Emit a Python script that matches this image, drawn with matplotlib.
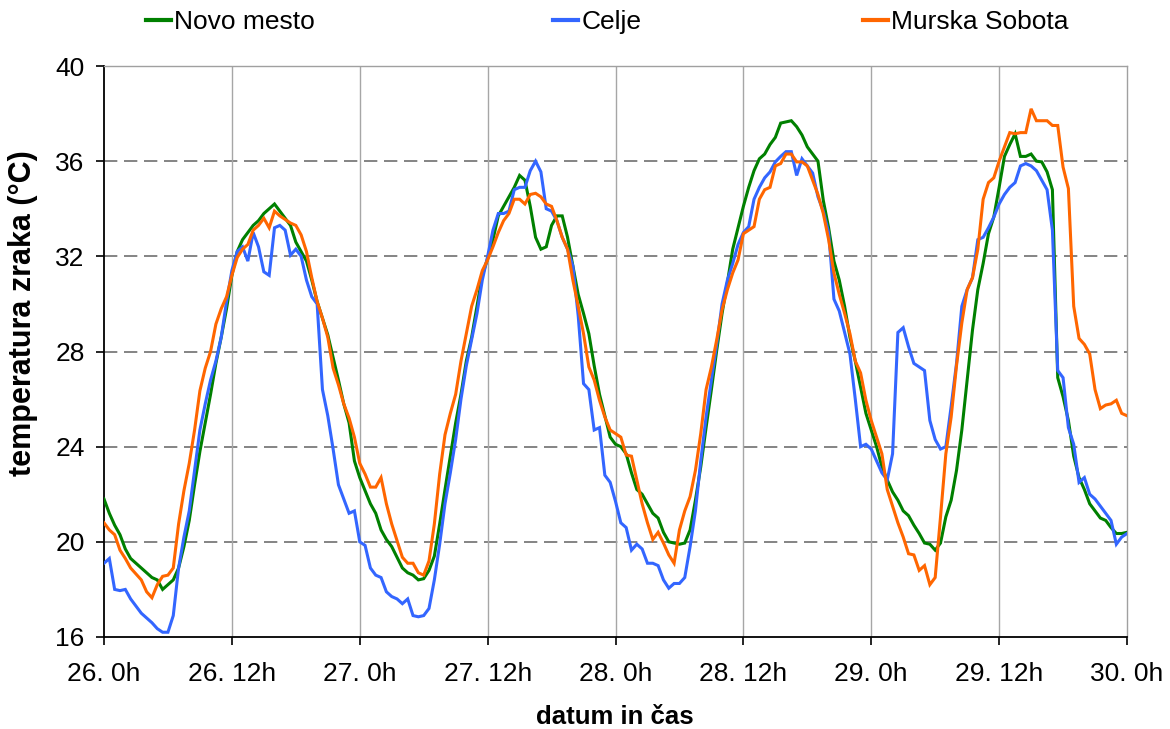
import numpy as np
import matplotlib
matplotlib.use("Agg")
import matplotlib.pyplot as plt
from matplotlib.lines import Line2D

plt.rcParams['font.family'] = ['Liberation Sans', 'DejaVu Sans']

# half-hourly air temperature (°C), from 26. 0h to 30. 0h
hours = np.arange(0, 96.5, 0.5)

novo_mesto = [
    21.8, 21.2, 20.7, 20.3, 19.7, 19.3, 19.1, 18.9, 18.7,
    18.5, 18.4, 18.0, 18.2, 18.4, 18.9, 19.8, 20.9,
    22.4, 23.8, 25.0, 26.2, 27.5, 28.6, 29.8, 31.2,
    32.2, 32.7, 33.0, 33.3, 33.5, 33.8, 34.0, 34.2,
    33.9, 33.6, 33.3, 32.6, 32.2, 31.8, 31.0, 30.1,
    29.4, 28.7, 27.75, 26.8, 25.8, 25.0, 23.4, 22.7,
    22.15, 21.6, 21.2, 20.5, 20.1, 19.8, 19.35, 18.9,
    18.7, 18.6, 18.4, 18.45, 18.8, 19.4, 20.75, 22.2,
    23.6, 25.0, 26.2, 27.6, 28.6, 29.9, 31.2, 31.9,
    32.7, 33.7, 34.1, 34.5, 34.9, 35.4, 35.2, 34.1,
    32.8, 32.3, 32.4, 33.3, 33.7, 33.7, 32.8, 31.6,
    30.4, 29.6, 28.75, 27.4, 26.2, 25.3, 24.4, 24.1,
    24.0, 23.7, 22.9, 22.2, 22.0, 21.6, 21.2, 21.0,
    20.4, 20.0, 19.95, 19.9, 19.95, 20.5, 21.75, 23.15,
    24.8, 26.4, 28.05, 29.6, 30.9, 32.3, 33.2, 34.1,
    34.9, 35.6, 36.1, 36.3, 36.7, 37.0, 37.6, 37.65,
    37.7, 37.45, 37.1, 36.6, 36.3, 36.0, 34.35, 33.2,
    31.8, 31.0, 29.9, 28.6, 27.6, 26.5, 25.4, 24.7,
    24.0, 23.15, 22.6, 22.1, 21.75, 21.3, 21.1, 20.7,
    20.35, 19.95, 19.9, 19.65, 19.95, 21.05, 21.75, 23.0,
    24.7, 26.8, 28.9, 30.6, 31.7, 32.95, 33.65, 34.9,
    36.2, 36.7, 37.15, 36.2, 36.2, 36.3, 36.0, 35.97,
    35.55, 34.8, 26.9, 26.1, 25.1, 23.6, 22.7, 22.2,
    21.6, 21.3, 21.0, 20.9, 20.6, 20.35, 20.35, 20.4,
]

celje = [
    19.1, 19.3, 18.0, 17.95, 18.0, 17.6, 17.3, 17.0, 16.8,
    16.6, 16.35, 16.2, 16.2, 16.9, 18.9, 20.2, 21.3,
    23.0, 24.7, 25.8, 26.8, 27.6, 28.6, 30.1, 31.4,
    32.2, 32.4, 31.8, 33.0, 32.4, 31.35, 31.2, 33.2,
    33.3, 33.1, 32.05, 32.3, 32.0, 31.0, 30.3, 30.0,
    26.4, 25.3, 23.9, 22.4, 21.8, 21.2, 21.3, 20.0,
    19.85, 18.9, 18.6, 18.5, 17.9, 17.7, 17.6, 17.4,
    17.6, 16.9, 16.85, 16.9, 17.2, 18.4, 19.9, 21.6,
    22.9, 24.3, 26.0, 27.4, 28.5, 29.6, 31.0, 32.0,
    33.1, 33.8, 33.8, 33.9, 34.8, 34.9, 34.9, 35.6,
    36.0, 35.55, 34.0, 33.9, 33.5, 32.8, 32.3, 31.6,
    29.5, 26.65, 26.4, 24.7, 24.8, 22.8, 22.5, 21.7,
    20.8, 20.6, 19.65, 19.9, 19.7, 19.1, 19.1, 19.0,
    18.4, 18.05, 18.25, 18.25, 18.5, 19.8, 21.3, 23.4,
    25.25, 26.8, 28.3, 30.0, 31.0, 31.7, 32.5, 33.0,
    33.25, 34.4, 34.9, 35.3, 35.55, 35.97, 36.2, 36.4,
    36.4, 35.4, 36.1, 35.8, 35.5, 34.5, 33.9, 33.0,
    30.2, 29.7, 28.8, 27.9, 26.0, 24.0, 24.1, 23.9,
    23.4, 22.9, 22.6, 23.7, 28.8, 29.0, 28.2, 27.5,
    27.35, 27.2, 25.1, 24.3, 23.9, 24.0, 25.7, 27.5,
    29.9, 30.6, 31.1, 32.7, 32.8, 33.2, 33.65, 34.2,
    34.6, 34.9, 35.1, 35.8, 35.9, 35.8, 35.6, 35.2,
    34.8, 33.1, 27.2, 26.9, 24.8, 24.1, 22.5, 22.7,
    22.0, 21.8, 21.5, 21.2, 20.9, 19.9, 20.2, 20.35,
]

murska_sobota = [
    20.8, 20.5, 20.3, 19.65, 19.3, 18.9, 18.65, 18.4, 17.9,
    17.65, 18.2, 18.55, 18.6, 18.9, 20.75, 22.15, 23.3,
    24.7, 26.35, 27.3, 28.0, 29.15, 29.8, 30.3, 31.2,
    31.95, 32.3, 32.5, 33.1, 33.3, 33.6, 33.2, 33.9,
    33.7, 33.55, 33.4, 33.3, 32.9, 32.2, 31.1, 30.1,
    29.4, 28.6, 27.3, 26.6, 25.8, 25.2, 24.4, 23.3,
    22.85, 22.3, 22.3, 22.7, 21.6, 20.75, 20.05, 19.35,
    19.1, 19.1, 18.7, 18.6, 19.2, 20.75, 22.85, 24.5,
    25.4, 26.2, 27.6, 28.75, 29.9, 30.6, 31.4, 31.85,
    32.4, 33.0, 33.5, 33.8, 34.4, 34.4, 34.2, 34.6,
    34.65, 34.5, 34.2, 34.1, 33.5, 32.8, 32.3, 31.0,
    29.9, 28.75, 27.35, 26.8, 25.95, 25.25, 24.7, 24.55,
    24.4, 23.65, 23.6, 22.6, 21.6, 20.8, 20.1, 20.4,
    19.95, 19.45, 19.1, 20.5, 21.3, 21.9, 23.0, 24.55,
    26.4, 27.35, 28.5, 29.75, 30.6, 31.3, 31.85, 32.95,
    33.1, 33.25, 34.4, 34.8, 34.9, 35.8, 35.9, 36.3,
    36.3, 35.97, 35.97, 35.8, 35.2, 34.6, 33.8, 32.7,
    31.3, 30.4, 29.6, 28.75, 27.6, 27.1, 25.95, 25.1,
    24.4, 23.7, 22.2, 21.5, 20.8, 20.2, 19.5, 19.45,
    18.8, 19.0, 18.2, 18.5, 21.05, 23.7, 25.25, 27.4,
    29.2, 30.6, 31.1, 32.3, 34.4, 35.1, 35.3, 36.0,
    36.6, 37.2, 37.15, 37.2, 37.2, 38.2, 37.7, 37.7,
    37.7, 37.5, 37.5, 35.75, 34.85, 29.9, 28.55, 28.3,
    27.9, 26.4, 25.6, 25.75, 25.8, 25.95, 25.4, 25.3,
]

series_names = ["Novo mesto", "Celje", "Murska Sobota"]
series_colors = ["#008000", "#3366ff", "#ff6600"]

x_ticks = np.arange(0, 97, 12)
x_tick_labels = ["26. 0h", "26. 12h", "27. 0h", "27. 12h", "28. 0h",
                 "28. 12h", "29. 0h", "29. 12h", "30. 0h"]
y_ticks = np.arange(16, 41, 4)

W, H = 1170, 729
fig = plt.figure(figsize=(W / 100, H / 100), dpi=100)
ax = fig.add_axes([104 / W, 1 - 637 / H, (1127 - 104) / W, (637 - 66) / H])

for name, vals, col in zip(series_names, [novo_mesto, celje, murska_sobota],
                           series_colors):
    ax.plot(hours, vals, color=col, lw=2.2, solid_joinstyle='miter',
            label=name, zorder=3)

ax.set_xlim(0, 96)
ax.set_ylim(16, 40)
ax.set_xticks(x_ticks)
ax.set_xticklabels(x_tick_labels)
ax.set_yticks(y_ticks)

# grid: dashed horizontals, thin solid verticals
for yv in y_ticks[1:-1]:
    ax.axhline(yv, color='#707070', lw=1.2, dashes=(8, 4), zorder=1)
for xv in x_ticks[1:-1]:
    ax.axvline(xv, color='#a6a6a6', lw=1.0, zorder=1)

for side in ('left', 'bottom'):
    ax.spines[side].set_color('black')
    ax.spines[side].set_linewidth(1.3)
for side in ('top', 'right'):
    ax.spines[side].set_color('#a0a0a0')
    ax.spines[side].set_linewidth(1.0)

ax.tick_params(axis='both', direction='out', length=6, width=1.2,
               colors='black', labelsize=19)
ax.tick_params(axis='x', pad=12)
ax.tick_params(axis='y', pad=8)

fig.text(23 / W, 1 - 313 / H, "temperatura zraka (°C)", rotation=90,
         ha='center', va='center', fontsize=22, fontweight='bold')
fig.text(615 / W, 1 - 717 / H, "datum in čas", ha='center', va='center',
         fontsize=18.5, fontweight='bold')

# legend entries spread across the top
legend_x = [146, 553, 863]
for name, col, lx in zip(series_names, series_colors, legend_x):
    handle = Line2D([], [], color=col, lw=3)
    fig.legend([handle], [name], loc='center left',
               bbox_to_anchor=(lx / W, 1 - 22 / H), frameon=False,
               fontsize=19, handlelength=0.95, handletextpad=0.12,
               borderpad=0, borderaxespad=0)

fig.savefig("out.png", dpi=100)
